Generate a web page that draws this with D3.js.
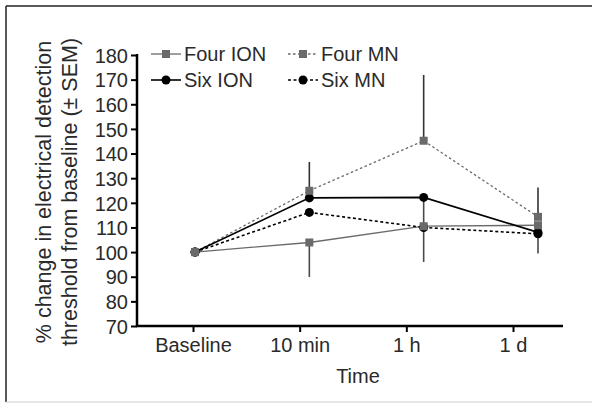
<!DOCTYPE html>
<html>
<head>
<meta charset="utf-8">
<script src="https://cdn.jsdelivr.net/npm/d3@7"></script>
<style>
  body { margin: 0; background: #fff; }
  svg text { font-family: "Liberation Sans", Arial, sans-serif; fill: #2a2a2a; }
</style>
</head>
<body>
<div id="chart"></div>
<script>
// Time points (tick labels)
const timeLabels = ["Baseline", "10 min", "1 h", "1 d"];

// Series means (% of baseline)
const fourION = [100, 103.9, 110.5, 110.9];
const fourMN  = [100, 124.9, 145.2, 114.3];
const sixION  = [100, 122.0, 122.2, 108.0];
const sixMN   = [100, 116.1, 110.0, 107.4];

// Visible error bar ends (null = none drawn)
const fourIONLow  = [null, 89.9, 96.0, 99.4];
const fourIONHigh = [null, null, 122.0, null];
const fourMNHigh  = [null, 136.6, 171.9, 126.2];

const yTicks = [70, 80, 90, 100, 110, 120, 130, 140, 150, 160, 170, 180];

const W = 592, H = 403;
const svg = d3.select("#chart").append("svg")
  .attr("width", W)
  .attr("height", H);

// Frame
svg.append("line").attr("x1", 6).attr("x2", 6).attr("y1", 6).attr("y2", 402)
  .attr("stroke", "#222").attr("stroke-width", 1.5);
svg.append("line").attr("x1", 6).attr("x2", W).attr("y1", 6).attr("y2", 6)
  .attr("stroke", "#222").attr("stroke-width", 1.5);
svg.append("line").attr("x1", 6).attr("x2", W).attr("y1", 402).attr("y2", 402)
  .attr("stroke", "#ccc").attr("stroke-width", 1);

// Scales
const y = d3.scaleLinear().domain([70, 180]).range([326, 55]);
const xData = d3.scaleLinear().domain([0, 3]).range([195, 538]);
const xTick = d3.scalePoint().domain(timeLabels).range([193, 513]);

// Y axis
const yAxis = svg.append("g")
  .attr("transform", "translate(137,0)")
  .call(d3.axisLeft(y).tickValues(yTicks).tickSize(6).tickPadding(3));
yAxis.select(".domain").attr("stroke", "#000").attr("stroke-width", 2.5)
  .attr("d", `M0,${y(180) - 1}V${y(70)}`);
yAxis.selectAll(".tick line").attr("stroke", "#000").attr("stroke-width", 2);
yAxis.selectAll(".tick text").style("font-size", "20px").attr("dy", "0.36em");

// X axis
const xAxis = svg.append("g")
  .attr("transform", `translate(0,${y(70)})`)
  .call(d3.axisBottom(xTick).tickSize(6).tickPadding(6));
xAxis.select(".domain").attr("stroke", "#000").attr("stroke-width", 2.5)
  .attr("d", "M136,0H563");
xAxis.selectAll(".tick line").attr("stroke", "#000").attr("stroke-width", 2);
xAxis.selectAll(".tick text").style("font-size", "20px");

// Axis titles
svg.append("text")
  .attr("x", 358).attr("y", 383)
  .attr("text-anchor", "middle")
  .style("font-size", "20px")
  .text("Time");

const yTitle = svg.append("text")
  .attr("transform", "translate(51,192) rotate(-90)")
  .attr("text-anchor", "middle")
  .style("font-size", "21.5px");
yTitle.append("tspan").attr("x", 0).attr("y", 0).text("% change in electrical detection");
yTitle.append("tspan").attr("x", 0).attr("y", 26).text("threshold from baseline (± SEM)");

// Series definitions
const series = [
  { name: "Four ION", values: fourION, color: "#6a6a6a", width: 1.3, dash: null, shape: "square" },
  { name: "Four MN", values: fourMN, color: "#6a6a6a", width: 1.3, dash: "2.5,2.5", shape: "square" },
  { name: "Six ION", values: sixION, color: "#000", width: 1.6, dash: null, shape: "circle" },
  { name: "Six MN", values: sixMN, color: "#000", width: 1.6, dash: "3,2.5", shape: "circle" }
];

const line = d3.line()
  .x((d, i) => xData(i))
  .y(d => y(d));

// Lines
series.forEach(s => {
  svg.append("path")
    .attr("d", line(s.values))
    .attr("fill", "none")
    .attr("stroke", s.color)
    .attr("stroke-width", s.width)
    .attr("stroke-dasharray", s.dash);
});

// Error bars
function drawBars(means, ends, color) {
  means.forEach((m, i) => {
    if (ends[i] == null) return;
    svg.append("line")
      .attr("x1", xData(i)).attr("x2", xData(i))
      .attr("y1", y(m)).attr("y2", y(ends[i]))
      .attr("stroke", color)
      .attr("stroke-width", 1.6);
  });
}
drawBars(fourION, fourIONLow, "#4a4a4a");
drawBars(fourION, fourIONHigh, "#4a4a4a");
drawBars(fourMN, fourMNHigh, "#333");

// Markers
function marker(g, shape, color, cx, cy) {
  if (shape === "square") {
    g.append("rect")
      .attr("x", cx - 4).attr("y", cy - 4)
      .attr("width", 8).attr("height", 8)
      .attr("fill", color);
  } else {
    g.append("circle")
      .attr("cx", cx).attr("cy", cy).attr("r", 4.5)
      .attr("fill", color);
  }
}
const markG = svg.append("g");
[series[2], series[3], series[0], series[1]].forEach(s => {
  s.values.forEach((v, i) => marker(markG, s.shape, s.color, xData(i), y(v)));
});

// Legend
const legendPos = [
  { s: series[0], x: 151, y: 54 },
  { s: series[2], x: 151, y: 80 },
  { s: series[1], x: 288, y: 54 },
  { s: series[3], x: 288, y: 80 }
];
const legend = svg.append("g");
legendPos.forEach(p => {
  legend.append("line")
    .attr("x1", p.x).attr("x2", p.x + 30)
    .attr("y1", p.y).attr("y2", p.y)
    .attr("stroke", p.s.color)
    .attr("stroke-width", p.s.width)
    .attr("stroke-dasharray", p.s.dash);
  marker(legend, p.s.shape, p.s.color, p.x + 15, p.y);
  legend.append("text")
    .attr("x", p.x + 33).attr("y", p.y)
    .attr("dy", "0.36em")
    .style("font-size", "20px")
    .text(p.s.name);
});
</script>
</body>
</html>
